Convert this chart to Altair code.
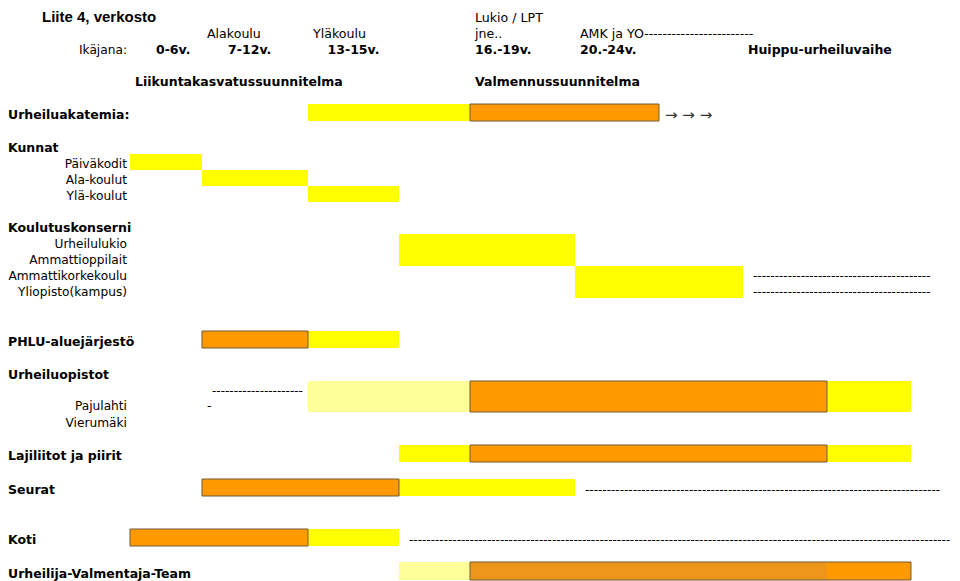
import altair as alt
import pandas as pd

# ---------------- grid geometry (scale configuration) ----------------
# column edges of the underlying sheet (index -> pixel inside the chart)
COL_IDX = [-1, 0, 1, 2, 3, 4, 5, 6, 7, 8, 9]
COL_PX = [0, 122, 194, 300, 391, 462, 567, 651, 735, 819, 903]
# row boundaries (row r spans boundary r .. r+1)
ROW_IDX = list(range(1, 37))
ROW_PX = [0, 16, 32, 48, 64, 80, 96, 113, 129, 146, 162, 178, 194, 210, 226,
          242, 258, 274, 290, 306, 323, 340, 356, 373, 389, 404, 421, 437,
          454, 471, 488, 504, 521, 538, 554, 572]

XS = alt.Scale(domain=COL_IDX, range=COL_PX, nice=False, zero=False)
YS = alt.Scale(domain=ROW_IDX, range=ROW_PX, nice=False, zero=False)

# ---------------- bars (row from/to, column from/to, kind) ----------------
bar_row_from = [7, 7, 10, 11, 12, 15, 17, 21, 21, 24, 24, 24, 28, 28, 28, 30, 30, 33, 33, 35, 35, 35]
bar_row_to   = [8, 8, 11, 12, 13, 17, 19, 22, 22, 26, 26, 26, 29, 29, 29, 31, 31, 34, 34, 36, 36, 36]
bar_col_from = [2, 4, 0, 1, 2, 3, 5, 1, 2, 2, 4, 8, 3, 4, 8, 1, 3, 0, 2, 3, 4, 8]
bar_col_to   = [4, 6, 1, 2, 3, 5, 7, 2, 3, 4, 8, 9, 4, 8, 9, 3, 5, 2, 3, 4, 8, 9]
bar_kind     = ["keltainen", "oranssi", "keltainen", "keltainen", "keltainen",
                "keltainen", "keltainen", "oranssi", "keltainen", "vaalea",
                "oranssi", "keltainen", "keltainen", "oranssi", "keltainen",
                "oranssi", "keltainen", "oranssi", "keltainen", "vaalea",
                "tumma", "oranssi"]

KINDS = ["keltainen", "vaalea", "oranssi", "tumma"]
KIND_COLORS = ["#FFFF00", "#FFFF99", "#FF9900", "#EE961A"]

# outlined spans
box_row_from = [7, 21, 24, 28, 30, 33, 35]
box_row_to   = [8, 22, 26, 29, 31, 34, 36]
box_col_from = [4, 1, 4, 4, 1, 0, 4]
box_col_to   = [6, 2, 8, 8, 3, 2, 9]

# ---------------- texts ----------------
title_text = ["Liite 4, verkosto"]

plain_left_text = ["Lukio / LPT", "Alakoulu", "Yläkoulu", "jne..",
                   "AMK ja YO" + "-" * 24, "-"]
plain_left_row = [1, 2, 2, 2, 2, 25]
plain_left_col = [4, 1, 2, 4, 5, 1]

bold_left_text = ["16.-19v.", "20.-24v.", "Huippu-urheiluvaihe",
                  "Liikuntakasvatussuunnitelma", "Valmennussuunnitelma"]
bold_left_row = [3, 3, 3, 5, 5]
bold_left_col = [4, 5, 7, 0, 4]

age_text = ["0-6v.", "7-12v.", "13-15v."]
age_row = [3, 3, 3]
age_col = [0.6, 1.45, 2.5]

right_text = ["Ikäjana:", "Päiväkodit", "Ala-koulut", "Ylä-koulut",
              "Urheilulukio", "Ammattioppilait", "Ammattikorkekoulu",
              "Yliopisto(kampus)", "Pajulahti", "Vierumäki"]
right_row = [3, 10, 11, 12, 15, 16, 17, 18, 25, 26]

section_text = ["Urheiluakatemia:", "Kunnat", "Koulutuskonserni",
                "PHLU-aluejärjestö", "Urheiluopistot", "Lajiliitot ja piirit",
                "Seurat", "Koti", "Urheilija-Valmentaja-Team"]
section_row = [7, 9, 14, 21, 23, 28, 30, 33, 35]

dash_text = ["-" * 41, "-" * 41, "-" * 21, "-" * 82, "-" * 125]
dash_row = [17, 18, 24, 30, 33]
dash_col = [7, 7, 1, 5, 3]

arrow_text = ["→ → →"]
arrow_row = [7]
arrow_col = [6]

FONT = "DejaVu Sans"

bars = pd.DataFrame({"r0": bar_row_from, "r1": bar_row_to,
                     "c0": bar_col_from, "c1": bar_col_to, "kind": bar_kind})
boxes = pd.DataFrame({"r0": box_row_from, "r1": box_row_to,
                      "c0": box_col_from, "c1": box_col_to})

bar_layer = alt.Chart(bars).mark_rect(strokeWidth=0).encode(
    x=alt.X("c0:Q", scale=XS, axis=None),
    x2="c1:Q",
    y=alt.Y("r0:Q", scale=YS, axis=None),
    y2="r1:Q",
    color=alt.Color("kind:N", scale=alt.Scale(domain=KINDS, range=KIND_COLORS), legend=None),
)

box_layer = alt.Chart(boxes).mark_rect(filled=False, stroke="#6E5A3C", strokeWidth=1).encode(
    x=alt.X("c0:Q", scale=XS, axis=None),
    x2="c1:Q",
    y=alt.Y("r0:Q", scale=YS, axis=None),
    y2="r1:Q",
)


def text_layer(labels, rows, cols, align, dx, dy, size, weight, font=FONT, color="#000000"):
    df = pd.DataFrame({"label": labels, "row": rows, "col": cols})
    return alt.Chart(df).transform_calculate(yb="datum.row + 1").mark_text(
        align=align, baseline="alphabetic", dx=dx, dy=dy, font=font,
        fontSize=size, fontWeight=weight, color=color,
    ).encode(
        x=alt.X("col:Q", scale=XS, axis=None),
        y=alt.Y("yb:Q", scale=YS, axis=None),
        text="label:N",
    )


layers = [
    bar_layer,
    box_layer,
    text_layer(title_text, [0], [-1], "left", 34, 14, 15, "bold", font="Liberation Sans"),
    text_layer(plain_left_text, plain_left_row, plain_left_col, "left", 5, -2, 12.6, "normal"),
    text_layer(bold_left_text, bold_left_row, bold_left_col, "left", 5, -2, 12.5, "bold"),
    text_layer(age_text, age_row, age_col, "center", 0, -2, 12.5, "bold"),
    text_layer(right_text, right_row, [0] * len(right_text), "right", -3, -2, 12.2, "normal"),
    text_layer(section_text, section_row, [-1] * len(section_text), "left", 0, -2, 12.5, "bold"),
    text_layer(dash_text, dash_row, dash_col, "left", 10, -2, 12, "normal"),
    text_layer(arrow_text, arrow_row, arrow_col, "left", 6, -1, 15, "normal", color="#333333"),
]

chart = alt.layer(*layers).properties(
    width=944, height=573, padding=0,
    autosize=alt.AutoSizeParams(type="none"),
    background="white",
).configure_view(stroke=None)

chart.save("out.html", embed_options={"renderer": "svg", "actions": False})
